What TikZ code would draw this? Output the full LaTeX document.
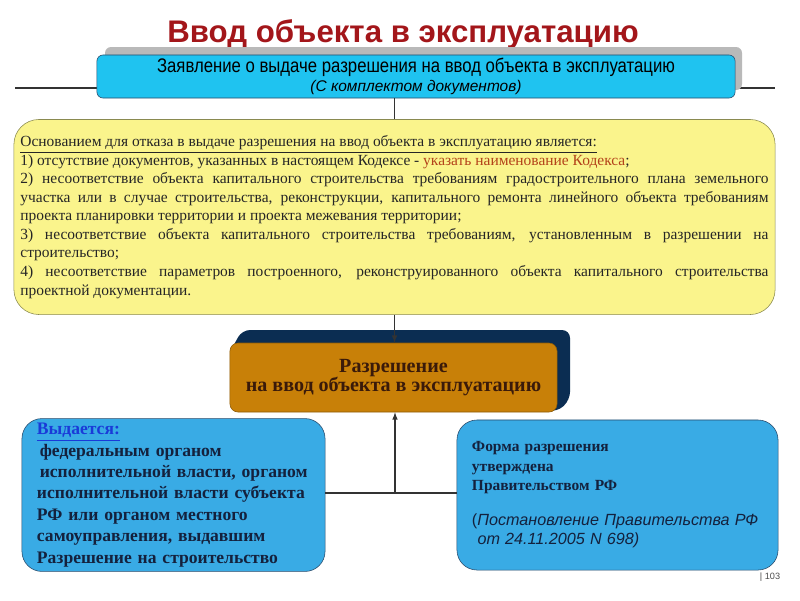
\documentclass[tikz,border=0pt]{standalone}
\usepackage{fontspec}
\setmainfont{Liberation Serif}
\setsansfont{Liberation Sans}
\newfontfamily\narrowsf[FakeStretch=0.85]{Liberation Sans}
\usetikzlibrary{positioning, arrows.meta}
\definecolor{titlered}{HTML}{A3161A}
\definecolor{requestfill}{HTML}{1FC3F0}
\definecolor{reasonfill}{HTML}{FAF48C}
\definecolor{reasonline}{HTML}{8A8A50}
\definecolor{codered}{HTML}{B3421A}
\definecolor{permitfill}{HTML}{C88008}
\definecolor{permitshadow}{HTML}{0B2D52}
\definecolor{permittext}{HTML}{3A1A0A}
\definecolor{infofill}{HTML}{39ABE5}
\definecolor{infoline}{HTML}{2A4A6A}
\definecolor{infotext}{HTML}{14213D}
\definecolor{linkblue}{HTML}{1A3BD8}
\begin{document}
\begin{tikzpicture}[x=0.025cm, y=-0.025cm,
    title/.style={font=\sffamily\bfseries\fontsize{22.2}{26}\selectfont, text=titlered},
    requestbox/.style={draw=infoline, fill=requestfill, rounded corners=0.15cm,
        minimum width=15.95cm, minimum height=1.075cm, align=center, inner sep=0pt},
    reasonbox/.style={draw=reasonline, fill=reasonfill, rounded corners=0.625cm,
        minimum width=19.025cm, minimum height=4.875cm, text width=18.7cm, align=justify,
        font=\fontsize{11}{13.2}\selectfont, text=black!85, inner sep=0pt},
    permitbox/.style={draw=permitfill!70!black, fill=permitfill, rounded corners=0.2cm,
        minimum width=8.175cm, minimum height=1.725cm, align=center,
        font=\bfseries\fontsize{14.3}{13.8}\selectfont, text=permittext},
    infobox/.style={draw=infoline, fill=infofill, rounded corners=0.5cm,
        minimum height=3.75cm, align=left, inner xsep=0.375cm, text=infotext},
    link/.style={draw=black!80, line width=0.8pt}]
  \useasboundingbox (0,0) rectangle (800,600);
  \coordinate (ruleL) at (15,88);
  \coordinate (ruleR) at (775,88);
  \draw[link] (ruleL) -- (ruleR);

  \node[title] (title) at (403,34) {Ввод объекта в эксплуатацию};

  \fill[gray!55, rounded corners=0.15cm] (105,47) rectangle (742,90);
  \node[requestbox] (request) at (416,76.5)
    {\narrowsf\fontsize{14}{15}\selectfont Заявление о выдаче разрешения на ввод объекта в эксплуатацию\\[1pt]
     \sffamily\itshape\fontsize{11}{14}\selectfont (С комплектом документов)};

  \node[reasonbox] (reasons) at (394.5,217) {%
    \underline{Основанием для отказа в выдаче разрешения на ввод объекта в эксплуатацию является:}\\
    1) отсутствие документов, указанных в настоящем Кодексе - \textcolor{codered}{указать наименование Кодекса};\\
    2) несоответствие объекта капитального строительства требованиям градостроительного плана земельного\linebreak
    участка или в случае строительства, реконструкции, капитального ремонта линейного объекта требованиям\linebreak
    проекта планировки территории и проекта межевания территории;\\
    3) несоответствие объекта капитального строительства требованиям, установленным в разрешении на\linebreak
    строительство;\\
    4) несоответствие параметров построенного, реконструированного объекта капитального строительства\linebreak
    проектной документации.};

  \fill[permitshadow, rounded corners=0.2cm] (230,352) -- (242,330) -- (570,330) -- (570,400) -- (557,412) -- cycle;
  \node[permitbox] (permit) at (393.5,377.5) {Разрешение\\ на ввод объекта в эксплуатацию};

  \node[infobox, minimum width=7.575cm, text width=6.825cm, font=\bfseries\fontsize{12.5}{15.2}\selectfont]
    (issuer) at (173.5,495) {%
    \textcolor{linkblue}{\underline{Выдается:}}\\
    \hspace*{2pt}федеральным органом\\
    \hspace*{2pt}исполнительной власти, органом\\
    исполнительной власти субъекта\\
    РФ или органом местного\\
    самоуправления, выдавшим\\
    Разрешение на строительство};
  \node[infobox, inner xsep=0.3cm, minimum width=8.025cm, text width=7.425cm, font=\bfseries\fontsize{11}{13.9}\selectfont]
    (form) at (617.5,495) {%
    \hspace*{0.075cm}Форма разрешения\\
    \hspace*{0.075cm}утверждена\\
    \hspace*{0.075cm}Правительством РФ\\[11pt]
    \sffamily\mdseries\fontsize{11.5}{13.5}\selectfont\hspace*{0.075cm}(\textit{Постановление Правительства РФ}\\
    \sffamily\mdseries\fontsize{11.5}{13.5}\selectfont\hspace*{0.075cm}\hspace*{4pt}\textit{от 24.11.2005 N 698)}};

  \draw[link] (reasons.north |- request.south) -- (reasons.north);
  \draw[link, -latex] (reasons.south) -- (reasons.south |- permit.north);
  \coordinate (junction) at (395,493);
  \draw[link] (issuer.east |- junction) -- (form.west |- junction);
  \draw[link, -latex] (junction) -- (junction |- permit.south);

  \node[font=\sffamily\fontsize{6.5}{8}\selectfont, text=black!70] (page) at (770,577) {| 103};
\end{tikzpicture}
\end{document}
